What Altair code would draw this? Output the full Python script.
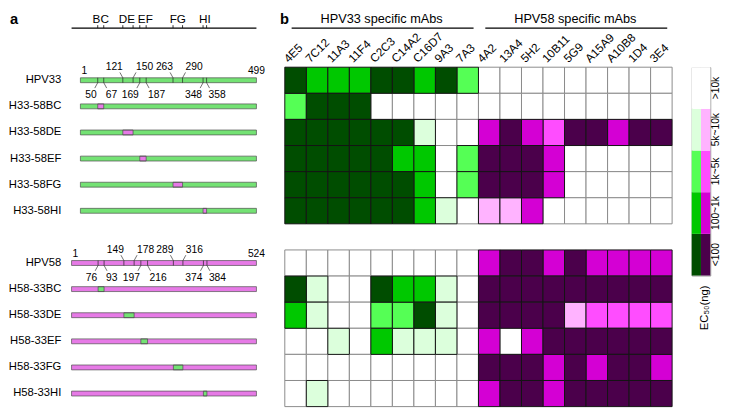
import altair as alt
import pandas as pd

# ---------------- panel b : EC50 heat map ----------------
mabs33 = ["4E5", "7C12", "11A3", "11F4", "C2C3", "C14A2", "C16D7", "9A3", "7A3"]
mabs58 = ["4A2", "13A4", "5H2", "10B11", "5G9", "A15A9", "A10B8", "1D4", "3E4"]
rows33 = ["HPV33", "H33-58BC", "H33-58DE", "H33-58EF", "H33-58FG", "H33-58HI"]
rows58 = ["HPV58", "H58-33BC", "H58-33DE", "H58-33EF", "H58-33FG", "H58-33HI"]
group_titles = ["HPV33 specific mAbs", "HPV58 specific mAbs"]
level_names = ["<100", "100~1k", "1k~5k", "5k~10k", ">10k"]
green_colors = ["#004d00", "#00c800", "#55ff55", "#dcffdc", "#ffffff"]
magenta_colors = ["#4b004b", "#d400d4", "#ff4dff", "#ffb3ff", "#ffffff"]

# EC50 class index (0 = <100 ... 4 = >10k); columns = mabs33 + mabs58
ec50_33 = [
    [0, 1, 1, 1, 0, 0, 1, 0, 2, 4, 4, 4, 4, 4, 4, 4, 4, 4],
    [2, 0, 0, 0, 4, 4, 4, 4, 4, 4, 4, 4, 4, 4, 4, 4, 4, 4],
    [0, 0, 0, 0, 0, 0, 3, 4, 4, 1, 0, 1, 2, 0, 0, 1, 0, 0],
    [0, 0, 0, 0, 0, 1, 1, 4, 2, 0, 0, 0, 1, 4, 4, 4, 4, 4],
    [0, 0, 0, 0, 0, 0, 1, 4, 2, 0, 0, 0, 1, 4, 4, 4, 4, 4],
    [0, 0, 0, 0, 0, 0, 1, 3, 4, 3, 3, 1, 4, 4, 4, 4, 4, 4],
]
ec50_58 = [
    [4, 4, 4, 4, 4, 4, 4, 4, 4, 1, 0, 0, 1, 0, 1, 1, 1, 1],
    [0, 3, 4, 4, 0, 1, 1, 3, 4, 0, 0, 0, 0, 0, 0, 0, 0, 0],
    [1, 3, 4, 4, 2, 2, 0, 3, 4, 0, 0, 0, 0, 3, 2, 2, 2, 2],
    [4, 4, 3, 4, 1, 3, 3, 3, 4, 1, 4, 1, 0, 0, 0, 0, 0, 0],
    [4, 4, 4, 4, 4, 4, 4, 4, 4, 0, 0, 0, 1, 0, 1, 0, 0, 1],
    [4, 3, 4, 4, 4, 4, 4, 4, 4, 1, 0, 0, 1, 0, 0, 0, 0, 0],
]

# ---------------- panel a : chimeric constructs ----------------
len33 = 499
len58 = 524
loop_names = ["BC", "DE", "EF", "FG", "HI"]
loops33 = [(50, 67), (121, 150), (169, 187), (263, 290), (348, 358)]
loops58 = [(76, 93), (149, 178), (197, 216), (289, 316), (374, 384)]
bar_colors = ["#74e274", "#e67ae6"]

# ---------------- layout / style constants ----------------
FONT = "Liberation Sans"
HA = 347
WA = 202
A_RANGE = 189
WB = 396
WB_EXTRA = 4
WL = 19
HL = 213
SPACING = 16
loop_label_align = ["center", "right", "left", "center", "center"]
band0 = dict(paddingInner=0, paddingOuter=0)

mabs = mabs33 + mabs58
spacer = " "
row_order = rows33 + [spacer] + rows58
off33 = len58 - len33

keys = [f"HPV33-{i}" for i in range(5)] + [f"HPV58-{i}" for i in range(5)]
cscale = alt.Scale(domain=keys, range=green_colors + magenta_colors)

# ---------- heat map ----------
recs = []
for rows, mat in ((rows33, ec50_33), (rows58, ec50_58)):
    for r, vals in zip(rows, mat):
        for m, v in zip(mabs, vals):
            g = "HPV33" if m in mabs33 else "HPV58"
            recs.append({"row": r, "mab": m, "level": v, "key": f"{g}-{v}"})
heat = pd.DataFrame(recs).sort_values("level", ascending=False, kind="stable")


def xb(field):
    return alt.X(f"{field}:N", scale=alt.Scale(domain=mabs, range=[0, WB], **band0), axis=None)


yb = alt.Y("row:N", scale=alt.Scale(domain=row_order, **band0), axis=None)

cells = alt.Chart(heat).mark_rect(strokeWidth=1).encode(
    x=xb("mab"),
    y=yb,
    fill=alt.Fill("key:N", scale=cscale, legend=None),
    stroke=alt.condition("datum.level == 4", alt.value("#8a8a8a"), alt.value("#141414")),
)
collab = alt.Chart(pd.DataFrame({"mab": mabs})).mark_text(
    angle=315, align="left", baseline="alphabetic", fontSize=12, xOffset=-7
).encode(x=xb("mab"), y=alt.value(-4), text="mab:N")

hdr = pd.DataFrame({
    "title": group_titles,
    "first": [mabs33[0], mabs58[0]],
    "last": [mabs33[-1], mabs58[-1]],
    "mid": [mabs33[len(mabs33) // 2], mabs58[len(mabs58) // 2]],
})
hdr_text = alt.Chart(hdr).mark_text(fontSize=13, baseline="alphabetic").encode(
    x=xb("mid"), y=alt.value(-45), text="title:N")
hdr_rule = alt.Chart(hdr).mark_rule(strokeWidth=1.2, color="black", xOffset=-4, x2Offset=6).encode(
    x=xb("first"), x2=alt.X2("last"), y=alt.value(-40))
b_letter = alt.Chart(pd.DataFrame({"t": ["b"]})).mark_text(
    fontSize=15, fontWeight="bold", align="left", baseline="top"
).encode(x=alt.value(-5), y=alt.value(-56), text="t:N")

panel_b = alt.layer(cells, collab, hdr_rule, hdr_text, b_letter).properties(width=WB + WB_EXTRA, height=HA)

# ---------- constructs ----------
def xa(field):
    return alt.X(f"{field}:Q", scale=alt.Scale(domain=[1, len58], range=[0, A_RANGE], nice=False, zero=False),
                 axis=None)


ya = alt.Y("row:N", scale=alt.Scale(domain=row_order, **band0),
           axis=alt.Axis(title=None, domain=False, ticks=False, labelFontSize=11.5, labelPadding=11,
                         labelColor="black", labelFont=FONT))

bar_recs = []
for rows, gb, gi, length, off, loops in (
    (rows33, "HPV33", "HPV58", len33, off33, loops33),
    (rows58, "HPV58", "HPV33", len58, 0, loops58),
):
    for i, r in enumerate(rows):
        bar_recs.append({"row": r, "start": 1 + off, "end": length + off, "grp": gb})
        if i > 0:
            a, b = loops[i - 1]
            bar_recs.append({"row": r, "start": a + off, "end": b + off, "grp": gi})
bars = pd.DataFrame(bar_recs)

bars_fill = alt.Chart(bars).mark_bar(size=5, strokeWidth=0).encode(
    x=xa("start"), x2=alt.X2("end"), y=ya,
    fill=alt.Fill("grp:N", scale=alt.Scale(domain=["HPV33", "HPV58"], range=bar_colors), legend=None))
bars_line = alt.Chart(bars).mark_bar(size=5, filled=False, color="#4d4d4d", strokeWidth=0.7).encode(
    x=xa("start"), x2=alt.X2("end"), y=ya)

tick_recs = []
num_recs = []
end_recs = []
for row, off, loops, length in ((rows33[0], off33, loops33, len33), (rows58[0], 0, loops58, len58)):
    for j, (a, b) in enumerate(loops):
        tick_recs += [{"row": row, "pos": a + off}, {"row": row, "pos": b + off}]
        side = "above" if j % 2 == 1 else "below"
        num_recs.append({"row": row, "pos": a + off, "label": str(a), "side": side, "dir": "left"})
        num_recs.append({"row": row, "pos": b + off, "label": str(b), "side": side, "dir": "right"})
    end_recs.append({"row": row, "pos": 1 + off, "label": "1", "kind": "start"})
    end_recs.append({"row": row, "pos": length + off, "label": str(length), "kind": "end"})
nums = pd.DataFrame(num_recs)
ends = pd.DataFrame(end_recs)

ticks = alt.Chart(pd.DataFrame(tick_recs)).mark_tick(size=5, thickness=1, color="#222222").encode(
    x=xa("pos"), y=ya)

lab_layers = []
for side in ("above", "below"):
    for d in ("left", "right"):
        sub = nums[(nums.side == side) & (nums.dir == d)]
        sgn = -1 if side == "above" else 1
        lab_layers.append(
            alt.Chart(sub).mark_rule(color="#333333", strokeWidth=0.7, yOffset=sgn * 2.5, y2Offset=sgn * 8,
                                     x2Offset=(-3 if d == "left" else 3))
            .encode(x=xa("pos"), x2=alt.X2("pos"), y=ya, y2=alt.Y2("row")))
        if side == "above":
            xo = 0 if d == "left" else 3
        else:
            xo = -1 if d == "left" else 2
        lab_layers.append(
            alt.Chart(sub).mark_text(fontSize=10.5, align=("right" if d == "left" else "left"),
                                     baseline=("alphabetic" if side == "above" else "top"),
                                     xOffset=xo, yOffset=(-10 if side == "above" else 10))
            .encode(x=xa("pos"), y=ya, text="label:N"))

end_start = alt.Chart(ends[ends.kind == "start"]).mark_text(
    fontSize=10.5, align="left", baseline="alphabetic", xOffset=1, yOffset=-6
).encode(x=xa("pos"), y=ya, text="label:N")
end_end = alt.Chart(ends[ends.kind == "end"]).mark_text(
    fontSize=10.5, align="center", baseline="alphabetic", yOffset=-6
).encode(x=xa("pos"), y=ya, text="label:N")

scale_line = alt.Chart(pd.DataFrame({"start": [1], "end": [len58]})).mark_rule(
    strokeWidth=1.2, color="black").encode(x=xa("start"), x2=alt.X2("end"), y=alt.value(-40))
loop_ticks = alt.Chart(pd.DataFrame({"pos": [p + off33 for ab in loops33 for p in ab]})).mark_rule(
    strokeWidth=0.8, color="black").encode(x=xa("pos"), y=alt.value(-43), y2=alt.value(-40))

loop_lab_recs = []
for name, (a, b), al in zip(loop_names, loops33, loop_label_align):
    anchor = {"center": (a + b) / 2, "right": b, "left": a}[al]
    loop_lab_recs.append({"name": name, "pos": anchor + off33, "align": al})
loop_lab_df = pd.DataFrame(loop_lab_recs)
loop_label_layers = []
for al, xo in (("center", 0), ("right", 2), ("left", -2)):
    loop_label_layers.append(
        alt.Chart(loop_lab_df[loop_lab_df["align"] == al]).mark_text(
            fontSize=12, baseline="alphabetic", align=al, xOffset=xo
        ).encode(x=xa("pos"), y=alt.value(-45), text="name:N"))

a_letter = alt.Chart(pd.DataFrame({"t": ["a"]})).mark_text(
    fontSize=15, fontWeight="bold", align="left", baseline="top"
).encode(x=alt.value(-63), y=alt.value(-56), text="t:N")

panel_a = alt.layer(bars_fill, bars_line, ticks, *lab_layers, end_start, end_end,
                    scale_line, loop_ticks, *loop_label_layers, a_letter).properties(width=WA, height=HA)

# ---------- colour key ----------
leg_recs = [{"grp": g, "lname": level_names[lv], "key": f"{g}-{lv}"}
            for g in ("HPV33", "HPV58") for lv in range(5)]
ly = alt.Y("lname:N", scale=alt.Scale(domain=level_names[::-1], **band0), axis=None)
leg_rect = alt.Chart(pd.DataFrame(leg_recs)).mark_rect().encode(
    x=alt.X("grp:N", scale=alt.Scale(domain=["HPV33", "HPV58"], **band0), axis=None),
    y=ly, fill=alt.Fill("key:N", scale=cscale, legend=None))
leg_lab = alt.Chart(pd.DataFrame({"lname": level_names})).mark_text(
    angle=270, fontSize=10.5, baseline="middle", align="center"
).encode(y=ly, x=alt.value(WL + 6), text="lname:N")
leg_title = alt.Chart(pd.DataFrame({"t": ["EC₅₀(ng)"]})).mark_text(
    angle=270, fontSize=11.5, baseline="middle", align="center"
).encode(x=alt.value(14), y=alt.value(HL + 33), text="t:N")
legend = alt.layer(leg_rect, leg_lab, leg_title).properties(
    width=WL, height=HL, view=alt.ViewBackground(stroke="#9a9a9a", strokeWidth=1))

chart = (
    alt.hconcat(panel_a, panel_b, legend, spacing=SPACING, bounds="flush")
    .resolve_scale(fill="independent")
    .properties(padding=0)
    .configure(font=FONT)
    .configure_view(strokeWidth=0)
)

chart.save("out.html", embed_options={"renderer": "svg", "actions": False})
